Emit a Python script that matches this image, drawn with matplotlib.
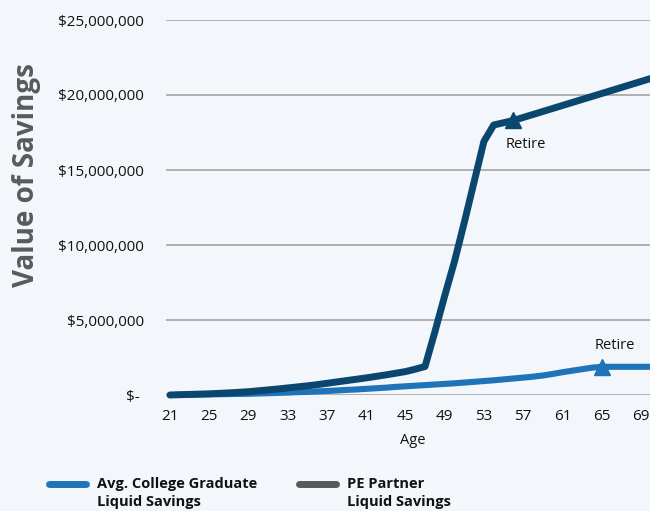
"""Savings comparison: average college graduate vs PE partner, by age."""

import matplotlib

matplotlib.use("Agg")
import matplotlib.pyplot as plt
from matplotlib.lines import Line2D
from matplotlib.ticker import FuncFormatter

AGES = list(range(21, 72))

# values in $ millions
AVG_GRAD_SAVINGS_M = [
    0.00, 0.01, 0.02, 0.03, 0.04, 0.05, 0.06, 0.07, 0.08, 0.10,  # 21-30
    0.12, 0.14, 0.16, 0.19, 0.21, 0.24, 0.27, 0.30, 0.34, 0.37,  # 31-40
    0.41, 0.45, 0.49, 0.54, 0.58, 0.62, 0.66, 0.70, 0.74, 0.78,  # 41-50
    0.83, 0.88, 0.93, 0.98, 1.04, 1.10, 1.16, 1.22, 1.30, 1.40,  # 51-60
    1.52, 1.62, 1.72, 1.82, 1.88, 1.88, 1.88, 1.88, 1.88, 1.88,  # 61-70
    1.88,                                                        # 71
]
PE_PARTNER_SAVINGS_M = [
    0.00, 0.02, 0.04, 0.06, 0.08, 0.11, 0.14, 0.18, 0.22, 0.28,  # 21-30
    0.34, 0.40, 0.47, 0.54, 0.61, 0.69, 0.78, 0.87, 0.96, 1.05,  # 31-40
    1.14, 1.24, 1.34, 1.45, 1.56, 1.72, 1.90, 4.20, 6.60, 8.90,  # 41-50
    11.50, 14.20, 16.90, 18.00, 18.15, 18.30, 18.50, 18.70, 18.90, 19.10,  # 51-60
    19.30, 19.50, 19.70, 19.90, 20.10, 20.30, 20.50, 20.70, 20.90, 21.10,  # 61-70
    21.30,                                                       # 71
]
AVG_GRAD_RETIRE_AGE = 65
PE_PARTNER_RETIRE_AGE = 56
X_TICKS = list(range(21, 70, 4))
Y_TICKS_M = [0, 5, 10, 15, 20, 25]

LEGEND_LABELS = ["Avg. College Graduate\nLiquid Savings", "PE Partner\nLiquid Savings"]

BG_COLOR = "#f3f7fb"
AVG_COLOR = "#1e73b9"
PE_COLOR = "#0a466e"
PE_LEGEND_COLOR = "#58595b"
GRID_COLOR = "#a3a3a3"

plt.rcParams["font.family"] = ["Open Sans", "DejaVu Sans"]


def money_label(value: float, _pos) -> str:
    if value == 0:
        return "$- "
    return f"${value:,.0f}"


def add_legend_entry(fig, x_px: float, color: str, label: str) -> None:
    """Legend line + bold label, handle aligned with the first text line (Excel style)."""
    y_line = 1 - 484 / 511
    fig.add_artist(Line2D([(x_px + 3) / 650, (x_px + 40) / 650], [y_line, y_line],
                          transform=fig.transFigure, color=color, lw=5,
                          solid_capstyle="round"))
    fig.text((x_px + 51) / 650, 1 - 477 / 511, label, ha="left", va="top",
             fontsize=10.5, fontweight="bold", color="#111111", linespacing=1.35)


def main() -> None:
    fig = plt.figure(figsize=(6.5, 5.11), dpi=100, facecolor=BG_COLOR)
    ax = fig.add_axes([166 / 650, 1 - 395 / 511, 484 / 650, 375 / 511])
    ax.set_facecolor(BG_COLOR)

    avg_values = [v * 1e6 for v in AVG_GRAD_SAVINGS_M]
    pe_values = [v * 1e6 for v in PE_PARTNER_SAVINGS_M]

    ax.plot(AGES, avg_values, color=AVG_COLOR, lw=4.4, solid_capstyle="round",
            solid_joinstyle="round", marker="^", markersize=12,
            markevery=[AGES.index(AVG_GRAD_RETIRE_AGE)], zorder=3)
    ax.plot(AGES, pe_values, color=PE_COLOR, lw=5.0, solid_capstyle="round",
            solid_joinstyle="round", marker="^", markersize=12,
            markevery=[AGES.index(PE_PARTNER_RETIRE_AGE)], zorder=4)

    ax.text(PE_PARTNER_RETIRE_AGE + 1.3, pe_values[AGES.index(PE_PARTNER_RETIRE_AGE)] - 1.6e6,
            "Retire", ha="center", va="center", fontsize=10.5, color="#111111")
    ax.text(AVG_GRAD_RETIRE_AGE + 1.3, avg_values[AGES.index(AVG_GRAD_RETIRE_AGE)] + 1.4e6,
            "Retire", ha="center", va="center", fontsize=10.5, color="#111111")

    ax.set_xlim(20.6, 69.93)
    ax.set_ylim(0, 25e6)
    ax.set_xticks(X_TICKS)
    ax.set_yticks([v * 1e6 for v in Y_TICKS_M])
    ax.yaxis.set_major_formatter(FuncFormatter(money_label))
    ax.tick_params(axis="both", length=0, labelsize=11, colors="#111111")
    ax.tick_params(axis="y", pad=16)
    ax.tick_params(axis="x", pad=10)
    ax.grid(axis="y", color=GRID_COLOR, lw=1.2)
    ax.set_axisbelow(True)
    for spine in ax.spines.values():
        spine.set_visible(False)
    for line in ax.get_lines():
        line.set_clip_on(False)

    fig.text(413 / 650, 1 - 440 / 511, "Age", ha="center", va="center", fontsize=10.5, color="#111111")
    fig.text(27 / 650, 1 - 175 / 511, "Value of Savings", rotation=90, ha="center", va="center",
             fontsize=20, fontweight="bold", color="#5a5a5a")

    add_legend_entry(fig, 46, AVG_COLOR, LEGEND_LABELS[0])
    add_legend_entry(fig, 296, PE_LEGEND_COLOR, LEGEND_LABELS[1])

    fig.savefig("out.png", dpi=100, facecolor=BG_COLOR)
    plt.close(fig)


if __name__ == "__main__":
    main()
